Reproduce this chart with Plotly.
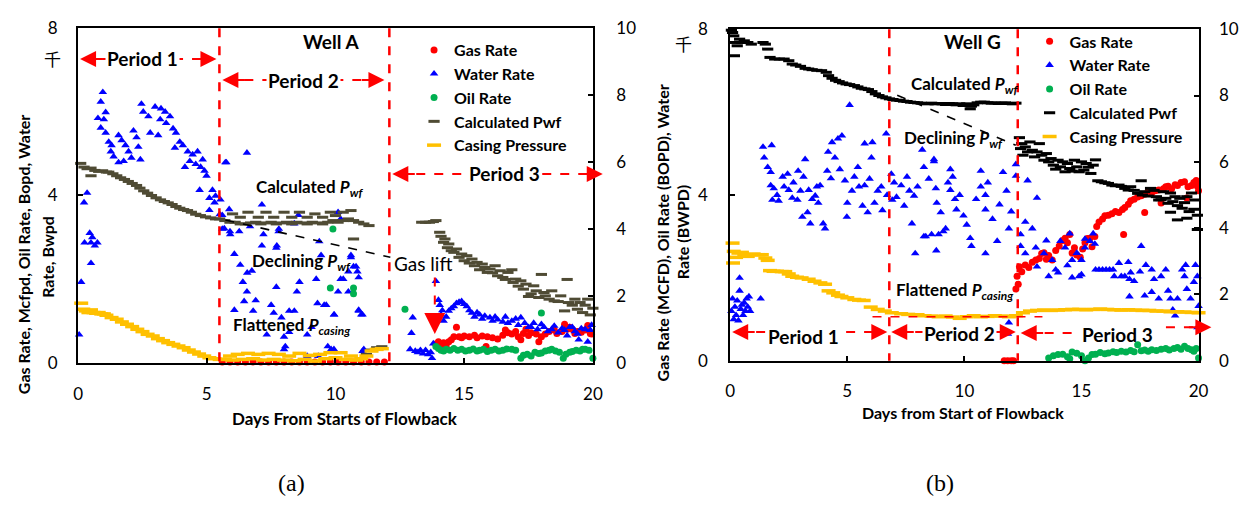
import plotly.graph_objects as go

W, H = 1254, 505
FONT = "Lato"
CJK = "Noto Sans CJK SC"

# ---------------- Panel (a): Well A ----------------
A_GAS_X = [5.6, 5.9, 6.2, 6.5, 6.8, 7.1, 7.4, 7.7, 8.0, 8.3, 8.6, 8.9, 9.2, 9.5, 9.8, 10.1, 10.4, 10.7, 11.0, 11.3, 11.6, 11.9,
           13.9, 14.0, 14.1, 14.2, 14.3, 14.4, 14.5, 14.6, 14.7, 14.8, 14.9, 15.0, 15.2, 15.4, 15.5, 15.7, 15.85, 15.9, 16.1, 16.3,
           16.5, 16.6, 16.7, 16.85, 17.0, 17.1, 17.2, 17.3, 17.4, 17.5, 17.6, 17.8, 17.9, 18.0, 18.15, 18.3, 18.5, 18.6, 18.8,
           18.9, 19.0, 19.1, 19.2, 19.3, 19.4, 19.55, 19.7, 19.8, 19.9, 19.95]
A_GAS_Y = [0.02, 0.02, 0.02, 0.02, 0.02, 0.02, 0.02, 0.02, 0.02, 0.02, 0.02, 0.02, 0.02, 0.02, 0.02, 0.02, 0.02, 0.02, 0.02, 0.02, 0.02, 0.02,
           0.45, 0.5, 0.42, 0.48, 0.4, 0.5, 0.55, 0.62, 0.85, 0.62, 0.6, 0.64, 0.62, 0.66, 0.6, 0.64, 0.39, 0.62, 0.6, 0.57,
           0.66, 0.78, 0.72, 0.69, 0.75, 0.62, 0.55, 0.7, 0.8, 0.65, 0.72, 0.69, 0.5, 0.62, 0.69, 0.75, 0.78, 0.7, 0.75,
           0.92, 0.8, 0.85, 0.8, 0.7, 0.75, 0.73, 0.78, 0.89, 0.7, 0.69]

A_WATER_X = [0.04, 0.12, 0.5, 0.25, 0.5, 0.65, 0.75, 0.55, 0.45, 0.23, 0.35,
             0.96, 0.88, 0.77, 1.0, 0.88, 1.07, 1.07, 1.19, 1.3, 1.27, 1.38, 1.57, 1.57, 1.69, 1.77, 1.84, 1.96, 2.07, 2.15, 2.27,
             2.34, 2.42, 2.46, 2.53, 2.73, 2.8, 2.99, 3.11, 3.19, 3.22, 3.38, 3.42, 3.57, 3.69, 3.76, 3.8, 3.95, 4.07, 4.15, 4.26,
             4.34, 4.45, 4.57, 4.64, 4.76, 4.84, 4.91, 4.99, 4.72, 5.1, 5.22, 5.3, 5.34, 5.1,
             6.56, 5.72, 5.53, 5.87, 5.6, 5.68, 5.91, 6.26, 6.68, 7.14, 7.2, 7.79, 7.72, 8.56, 8.4,
             5.76, 5.5, 5.6, 5.9, 7.8, 9.37, 10.1, 10.2, 6.07, 6.3, 7.14, 7.7, 6.57, 6.4, 6.75, 6.56, 6.9, 6.45, 6.07, 6.8,
             7.5, 7.6, 7.9, 8.2, 8.6, 8.5, 7.7, 7.33, 8.0, 8.05, 8.9, 8.9, 9.07, 9.3, 9.56, 9.7, 9.94, 9.94, 10.3, 10.5, 10.6,
             10.7, 10.85, 10.9, 11.0, 11.1, 10.5, 10.1, 8.4, 8.2, 8.0, 9.44, 10.6, 10.8, 10.9, 10.2, 9.25, 9.64, 9.95, 10.9,
             11.05, 11.05, 9.83, 9.33,
             12.9, 12.95, 13.0, 13.1, 13.2, 13.3, 13.4, 13.5, 13.6, 13.7, 13.75, 13.8, 13.9, 14.0, 14.05, 14.1, 14.15, 14.2,
             14.3, 14.4, 14.5, 14.6, 14.7, 14.8, 14.9, 15.0, 15.1, 15.2, 15.3, 15.4, 15.5, 15.6, 15.7, 15.8, 16.0, 16.1, 16.2,
             16.3, 16.5, 16.6, 16.7, 16.85, 17.0, 17.1, 17.2, 17.35, 17.5, 17.6, 17.7, 17.85, 18.0, 18.1, 18.25, 18.4, 18.5,
             18.65, 18.8, 18.9, 19.0, 19.1, 19.2, 19.3, 19.4, 19.45, 19.55, 19.7, 19.8, 19.9, 19.95]
A_WATER_Y = [0.67, 1.93, 2.38, 2.87, 2.87, 2.8, 2.87, 3.0, 3.1, 3.83, 4.06,
             6.47, 6.24, 5.85, 5.82, 5.62, 5.99, 5.5, 5.28, 5.2, 5.05, 4.93, 4.79, 5.44, 5.32, 4.82, 5.2, 5.05, 4.9, 5.55, 5.39,
             5.16, 4.86, 6.19, 6.0, 5.89, 5.5, 6.12, 5.44, 5.82, 6.08, 6.0, 5.73, 5.89, 5.6, 5.14, 5.5, 5.28, 5.2, 4.68, 5.05,
             4.82, 4.98, 4.75, 5.05, 4.68, 4.86, 4.59, 4.47, 4.13, 3.94, 4.13, 3.83, 3.99, 3.65,
             5.02, 4.79, 3.9, 3.67, 3.53, 3.21, 3.07, 3.14, 3.26, 3.78, 3.07, 3.14, 2.8, 3.53, 3.33,
             4.79, 3.55, 3.2, 3.14, 3.2, 2.9, 3.6, 3.44, 2.6, 2.34, 2.8, 2.75, 2.15, 1.93, 2.2, 1.7, 1.49, 1.47, 1.26, 1.24,
             1.38, 1.19, 1.08, 1.24, 1.93, 1.7, 1.81, 0.67, 0.62, 0.39, 0.16, 0.67, 0.85, 1.42, 1.38, 0.39, 1.15, 0.32, 2.0,
             2.18, 2.52, 2.3, 2.18, 1.24, 1.15, 0.32, 1.7, 1.7, 1.24, 0.73, 0.32, 2.57, 2.57, 2.3, 2.04, 2.0, 2.0, 1.38, 1.15,
             1.26, 1.15, 0.28, 0.32, 0.16,
             0.32, 0.71, 1.08, 0.28, 0.25, 0.3, 0.22, 0.3, 0.2, 0.25, 0.11, 0.46, 1.95, 1.5, 1.38, 1.15, 1.25, 1.0,
             1.1, 1.24, 1.3, 1.35, 1.42, 1.45, 1.47, 1.4, 1.35, 1.25, 1.19, 1.1, 1.2, 1.15, 1.05, 1.12, 1.08, 1.0, 1.1,
             1.03, 0.98, 1.1, 0.95, 1.0, 1.05, 0.9, 1.08, 0.95, 0.85, 0.85, 0.95, 0.8, 0.92, 0.85, 0.75, 0.8, 0.88,
             0.72, 0.82, 0.78, 0.65, 0.85, 0.85, 0.75, 0.69, 0.55, 0.82, 0.8, 0.5, 0.78, 0.9]

A_OIL_X = [9.9, 9.8, 10.7, 10.7, 12.7, 18.0,
           13.9, 14.0, 14.1, 14.2, 14.3, 14.45, 14.6, 14.75, 14.9, 15.05, 15.2, 15.35, 15.5, 15.6, 15.75, 15.9, 16.05, 16.2,
           16.35, 16.5, 16.65, 16.85, 17.0, 17.2, 17.3, 17.45, 17.6, 17.75, 17.9, 18.0, 18.15, 18.3, 18.4, 18.55, 18.7, 18.85,
           18.95, 19.1, 19.2, 19.35, 19.5, 19.6, 19.7, 19.85, 20.0]
A_OIL_Y = [3.2, 1.79, 1.79, 1.65, 1.28, 1.19,
           0.39, 0.34, 0.3, 0.28, 0.32, 0.3, 0.34, 0.3, 0.32, 0.28, 0.3, 0.33, 0.28, 0.3, 0.32, 0.27, 0.3, 0.32,
           0.28, 0.3, 0.33, 0.32, 0.3, 0.11, 0.18, 0.2, 0.16, 0.25, 0.22, 0.23, 0.28, 0.3, 0.32, 0.28, 0.25, 0.11,
           0.2, 0.25, 0.27, 0.3, 0.28, 0.32, 0.32, 0.3, 0.11]

A_PWF_X = [0.1, 0.23, 0.35, 0.5, 0.5, 0.65, 0.8, 0.95, 1.1, 1.19, 1.35, 1.5, 1.65, 1.8, 1.95, 2.1, 2.27, 2.4, 2.55, 2.7,
           2.85, 3.03, 3.2, 3.35, 3.5, 3.65, 3.8, 3.95, 4.1, 4.25, 4.4, 4.57, 4.75, 4.95, 5.15, 5.34,
           5.5, 5.7, 5.9, 6.1, 6.3, 6.5, 6.7, 6.9, 7.1, 7.3, 7.5, 7.7, 7.9, 8.1, 8.3, 8.5, 8.7, 8.9, 9.1, 9.3, 9.5, 9.7, 9.9,
           10.1, 10.3, 10.5, 10.7, 10.9, 11.1, 11.3, 6.0, 6.6, 7.3, 8.0, 8.6, 9.2, 9.8, 10.3, 10.6, 6.3, 7.0, 7.6, 8.3, 8.9,
           9.5, 10.0, 10.7, 11.2, 11.4, 11.6, 11.8,
           13.35, 13.5, 13.65, 13.8, 13.9, 14.05, 14.1, 14.2, 14.25, 14.35, 14.4, 14.5, 14.6, 14.7, 14.8, 14.9, 15.0, 15.1,
           15.2, 15.3, 15.4, 15.5, 15.6, 15.7, 15.8, 15.9, 16.0, 16.1, 16.2, 16.3, 16.4, 16.5, 16.6, 16.7, 16.85, 16.9, 17.0,
           17.1, 17.2, 17.3, 17.4, 17.5, 17.6, 17.7, 17.8, 17.9, 18.0, 18.1, 18.15, 18.3, 18.4, 18.5, 18.65, 18.75, 18.9,
           19.0, 19.05, 19.2, 19.3, 19.4, 19.5, 19.6, 19.7, 19.8, 19.9, 20.0]
A_PWF_Y = [5.96, 5.85, 5.8, 5.82, 5.59, 5.75, 5.72, 5.74, 5.7, 5.7, 5.65, 5.59, 5.53, 5.48, 5.42, 5.36, 5.3, 5.22, 5.14, 5.07,
           5.0, 4.93, 4.87, 4.82, 4.78, 4.73, 4.67, 4.62, 4.58, 4.55, 4.5, 4.44, 4.4, 4.36, 4.33, 4.3,
           4.3, 4.25, 4.2, 4.2, 4.15, 4.15, 4.18, 4.2, 4.15, 4.18, 4.2, 4.15, 4.18, 4.2, 4.15, 4.2, 4.18, 4.15, 4.2, 4.18, 4.15,
           4.2, 4.25, 4.2, 4.25, 4.3, 4.25, 4.2, 4.15, 4.1, 4.45, 4.5, 4.5, 4.5, 4.5, 4.45, 4.5, 4.5, 4.55, 4.35, 4.35, 4.35,
           4.35, 4.35, 4.35, 4.4, 3.7, 0.25, 0.38, 0.45, 0.48,
           4.2, 4.2, 4.2, 4.22, 4.25, 3.9, 3.78, 3.6, 3.7, 3.44, 3.55, 3.35, 3.3, 3.4, 3.15, 3.25, 3.05, 3.2,
           2.98, 3.1, 2.9, 3.0, 2.78, 2.95, 2.85, 2.7, 2.8, 2.69, 2.9, 2.6, 2.75, 2.55, 2.49, 2.7, 2.78, 2.4, 2.5,
           2.29, 2.45, 2.2, 2.35, 1.98, 2.06, 2.3, 2.15, 1.95, 2.64, 2.1, 2.0, 1.9, 2.15, 1.85, 1.83, 2.0, 1.55,
           2.49, 1.8, 1.72, 1.9, 1.6, 1.8, 1.5, 1.72, 1.9, 1.43, 1.63]

A_CASING_X = [0.12, 0.2, 0.3, 0.4, 0.5, 0.6, 0.7, 0.8, 0.9, 1.0, 1.1, 1.3, 1.5, 1.7, 1.9, 2.1, 2.3, 2.5, 2.7, 2.9, 3.1, 3.3,
              3.5, 3.7, 3.9, 4.1, 4.3, 4.5, 4.7, 4.9, 5.1, 5.3, 5.5, 5.7, 5.9, 6.0, 6.2, 6.4, 6.6, 6.8, 7.0, 7.2, 7.4, 7.6,
              7.8, 8.0, 8.2, 8.4, 8.6, 8.8, 9.0, 9.2, 9.4, 9.6, 9.8, 10.0, 10.2, 10.4, 10.6, 10.8, 11.0, 11.2, 11.4, 11.6, 11.8]
A_CASING_Y = [1.78, 1.6, 1.55, 1.5, 1.58, 1.5, 1.48, 1.5, 1.46, 1.46, 1.42, 1.35, 1.3, 1.22, 1.15, 1.08, 1.0, 0.93, 0.85, 0.8,
              0.72, 0.66, 0.6, 0.55, 0.5, 0.45, 0.38, 0.32, 0.26, 0.2, 0.15, 0.12, 0.1, 0.1, 0.2, 0.08, 0.25, 0.1, 0.28, 0.12,
              0.25, 0.08, 0.28, 0.1, 0.25, 0.08, 0.2, 0.06, 0.28, 0.1, 0.22, 0.05, 0.25, 0.12, 0.3, 0.15, 0.3, 0.1, 0.2, 0.08,
              0.12, 0.2, 0.35, 0.4, 0.42]

# ---------------- Panel (b): Well G ----------------
B_GAS_X = [11.7, 11.85, 12.0, 12.1, 12.2, 12.25, 12.3, 12.35, 12.45, 12.6, 12.75, 12.9, 13.05, 13.2, 13.3, 13.4, 13.5, 13.6,
           13.75, 13.9, 14.05, 14.2, 14.3, 14.4, 14.5, 14.6, 14.7, 14.8, 14.95, 15.05, 15.15, 15.25, 15.36, 15.45, 15.57,
           15.65, 15.75, 15.9, 16.0, 16.15, 16.3, 16.45, 16.6, 16.75, 16.85, 16.8, 17.0, 17.1, 17.25, 17.4, 17.55, 17.7,
           17.7, 17.85, 18.0, 18.15, 18.3, 18.4, 18.5, 18.6, 18.7, 18.85, 19.0, 19.1, 19.25, 19.4, 19.5, 19.55, 19.7, 19.8,
           19.9, 19.95, 20.0]
B_GAS_Y = [0.0, 0.0, 0.0, 0.0, 1.73, 2.04, 1.85, 2.27, 2.15, 2.31, 2.25, 2.38, 2.43, 2.47, 2.59, 2.61, 2.45, 2.54,
           2.43, 2.66, 2.77, 2.9, 2.96, 2.85, 3.05, 2.6, 2.73, 2.55, 2.5, 2.7, 2.85, 2.95, 2.96, 2.75, 3.0,
           3.24, 3.35, 3.42, 3.5, 3.51, 3.55, 3.6, 3.58, 3.65, 3.7, 3.05, 3.78, 3.86, 3.9, 3.95, 3.98, 3.58,
           4.02, 4.09, 4.05, 4.1, 4.12, 3.81, 4.15, 4.2, 4.21, 4.15, 4.25, 4.23, 4.3, 4.32, 3.93, 4.2, 4.23, 4.3,
           4.35, 4.21, 4.1]

B_WATER_X = [0.05, 0.1, 0.15, 0.2, 0.25, 0.3, 0.35, 0.4, 0.4, 0.45, 0.5, 0.55, 0.6, 0.65, 0.7, 0.75, 0.8, 0.85, 1.3,
             1.4, 1.45, 1.6, 1.73, 1.73, 1.77, 1.8, 1.86, 2.0, 2.07, 2.24, 2.3, 2.45, 2.5, 2.65, 2.7, 2.87, 2.9, 3.0, 3.08,
             3.13, 3.2, 3.3, 3.35, 3.42, 3.5, 3.63, 3.7, 3.76, 3.84, 3.97, 4.05, 4.14, 4.18, 4.3, 4.35, 4.47, 4.6, 4.68, 4.77,
             4.9, 4.98, 5.0, 5.1, 5.2, 5.3, 5.45, 5.5, 5.65, 5.74, 5.74, 5.87, 5.95, 6.03, 6.07, 6.16, 6.3, 6.45, 6.5, 6.66,
             6.7, 6.88, 6.92, 7.0, 7.1, 7.3, 7.43, 7.55, 7.65, 7.76, 7.85, 7.9, 8.0, 8.2, 8.27, 8.27, 8.35, 8.48, 8.6, 8.7,
             8.7, 8.78, 8.8, 8.82, 8.9, 8.99, 9.1, 9.2, 9.3, 9.4, 9.4, 9.5, 9.6, 9.66, 9.8, 9.96, 10.1, 10.25, 10.3, 10.5,
             10.7, 10.7, 10.9, 10.9, 10.9, 11.0, 11.2, 11.4, 11.5, 11.65, 11.8, 11.86, 11.9, 11.9, 12.0, 12.2, 12.2,
             12.4, 12.4, 12.6, 12.6, 12.7, 12.9, 13.05, 13.1, 13.1, 13.4, 13.5, 13.6, 13.75, 13.9, 14.0, 14.1, 14.3, 14.4,
             14.5, 14.6, 14.6, 14.8, 14.9, 15.0, 15.0, 15.15, 15.15, 15.36, 15.5, 15.57, 15.6, 15.75, 15.9, 16.05, 16.2,
             16.35, 16.4, 16.6, 16.7, 16.85, 17.0, 17.05, 17.05, 17.1, 17.25, 17.5, 17.55, 17.7, 17.75, 18.0, 18.0, 18.1,
             18.3, 18.4, 18.6, 18.7, 18.8, 18.9, 19.0, 19.1, 19.3, 19.4, 19.45, 19.5, 19.66, 19.8, 19.87, 19.95, 19.95, 20.0]
B_WATER_Y = [1.2, 1.5, 1.0, 1.3, 1.1, 1.45, 0.97, 2.0, 1.69, 1.25, 1.35, 1.1, 1.4, 1.2, 1.5, 1.3, 1.55, 1.2, 1.5,
             5.16, 4.9, 4.67, 4.55, 4.23, 5.2, 3.88, 4.16, 4.0, 3.86, 4.44, 4.2, 4.51, 4.12, 3.93, 4.3, 3.88, 4.58, 4.1, 3.47,
             4.44, 4.86, 3.58, 4.12, 3.31, 3.9, 3.98, 4.2, 3.81, 4.23, 3.31, 3.19, 4.58, 5.04, 4.4, 5.27, 4.9, 5.36, 4.62, 5.43,
             4.35, 3.47, 3.81, 6.17, 4.1, 4.44, 4.67, 4.2, 3.74, 5.24, 4.23, 3.58, 4.39, 4.9, 5.27, 3.81, 4.1, 4.2, 3.63, 5.48,
             4.0, 4.51, 3.88, 4.3, 3.95, 4.23, 3.74, 4.44, 4.1, 3.31, 3.98, 2.59, 4.2, 5.09, 4.67, 3.0, 3.0, 4.39, 3.05, 4.81,
             4.86, 4.16, 2.66, 3.81, 3.05, 3.58, 3.12, 3.19, 4.3, 4.62, 4.12, 4.44, 3.9, 3.65, 4.0, 3.5, 3.28, 2.96, 2.77, 3.9,
             4.58, 4.2, 4.0, 3.65, 2.59, 4.3, 3.42, 2.89, 3.77, 4.55, 4.1, 0.65, 0.92, 3.19, 3.6, 4.46, 4.74,
             3.05, 2.77, 3.35, 2.59, 4.35, 3.19, 2.73, 3.93, 2.27, 2.59, 2.9, 2.04, 2.43, 2.2, 2.13, 2.89, 2.73, 2.3,
             3.07, 2.43, 2.01, 2.6, 2.04, 2.08, 2.43, 2.73, 2.94, 2.89, 3.07, 2.82, 2.2, 2.2, 2.2, 2.2, 2.2,
             2.2, 2.04, 2.36, 2.04, 2.04, 2.38, 1.97, 1.55, 2.13, 1.92, 2.15, 2.77, 1.57, 2.31, 2.2, 1.66, 1.97,
             1.5, 2.04, 2.2, 1.69, 1.5, 1.23, 1.09, 1.5, 2.2, 2.04, 2.31, 1.73, 1.5, 1.9, 2.31, 2.04, 0.81, 1.32]

B_OIL_X = [13.6, 13.8, 14.0, 14.2, 14.4, 14.5, 14.6, 14.8, 15.0, 15.15, 15.3, 15.45, 15.6, 15.8, 16.0, 16.15, 16.35, 16.5,
           16.7, 16.9, 17.1, 17.25, 17.4, 17.55, 17.7, 17.85, 18.0, 18.2, 18.4, 18.6, 18.75, 18.95, 19.1, 19.25, 19.4,
           19.55, 19.7, 19.8, 19.9, 20.0]
B_OIL_Y = [0.07, 0.12, 0.15, 0.16, 0.1, 0.05, 0.21, 0.18, 0.12, 0.0, 0.07, 0.15, 0.16, 0.2, 0.17, 0.19, 0.22, 0.2,
           0.23, 0.21, 0.25, 0.22, 0.39, 0.24, 0.26, 0.23, 0.27, 0.25, 0.28, 0.3, 0.26, 0.3, 0.32, 0.28, 0.35,
           0.3, 0.27, 0.23, 0.3, 0.07]

B_PWF_X = [0.05, 0.1, 0.15, 0.18, 0.2, 0.3, 0.4, 0.5, 0.6, 0.75, 0.9, 1.4, 1.5, 1.6, 1.7, 1.9, 2.1, 2.3, 2.5, 2.65, 2.8,
           3.0, 3.2, 3.35, 3.5, 3.7, 3.9, 4.1, 4.2, 4.35, 4.5, 4.65, 4.8, 4.95, 5.1, 5.3, 5.45, 5.6, 5.75, 5.9, 6.05, 6.2,
           6.35, 6.5, 6.65, 6.8, 6.95, 7.1, 7.25, 7.4, 7.55, 7.7, 7.85, 8.0, 8.15, 8.3, 8.45, 8.6, 8.75, 8.9, 9.05, 9.2,
           9.35, 9.5, 9.65, 9.8, 9.95, 10.1, 10.25, 10.3, 10.4, 10.55, 10.7, 10.85, 11.0, 11.15, 11.3, 11.45, 11.6, 11.75,
           11.9, 12.05, 12.2,
           12.35, 12.4, 12.45, 12.5, 12.6, 12.7, 12.8, 12.9, 13.0, 13.1, 13.2, 13.3, 13.4, 13.5, 13.6, 13.7, 13.8, 13.9,
           14.0, 14.1, 14.2, 14.3, 14.4, 14.5, 14.6, 14.7, 14.8, 14.9, 15.0, 15.1, 15.2, 15.3, 15.4, 15.5, 15.6, 15.7,
           15.85, 16.0, 16.15, 16.3, 16.45, 16.6, 16.7, 16.85, 17.0, 17.1, 17.25, 17.4, 17.55, 17.6, 17.7, 17.85, 17.95,
           18.1, 18.2, 18.3, 18.4, 18.5, 18.6, 18.7, 18.8, 18.9, 19.0, 19.1, 19.2, 19.3, 19.4, 19.5, 19.6, 19.7, 19.8,
           19.85, 19.95, 19.95, 19.1, 18.8, 19.5]
B_PWF_Y = [9.97, 9.9, 9.8, 9.2, 9.6, 9.5, 9.7, 9.6, 9.65, 9.6, 9.55, 9.6, 9.55, 9.4, 9.15, 9.1, 9.1, 9.1, 9.05, 8.95, 8.92,
           8.88, 8.82, 8.8, 8.78, 8.76, 8.75, 8.7, 8.6, 8.52, 8.46, 8.42, 8.38, 8.35, 8.33, 8.3, 8.26, 8.22, 8.2, 8.18, 8.12,
           8.05, 8.0, 7.96, 7.93, 7.9, 7.88, 7.86, 7.85, 7.83, 7.82, 7.8, 7.79, 7.78, 7.77, 7.76, 7.75, 7.77, 7.75, 7.76,
           7.75, 7.73, 7.76, 7.75, 7.72, 7.75, 7.7, 7.75, 7.6, 7.68, 7.72, 7.78, 7.8, 7.8, 7.78, 7.77, 7.78, 7.76, 7.77,
           7.78, 7.76, 7.75, 7.77,
           6.73, 6.4, 6.55, 6.2, 6.45, 6.3, 6.6, 6.35, 6.15, 6.3, 6.55, 6.2, 6.05, 6.25, 6.0, 6.1, 5.9, 5.78,
           6.05, 5.85, 6.0, 5.7, 5.95, 5.8, 5.72, 6.05, 5.85, 5.7, 6.0, 5.75, 5.95, 5.84, 5.65, 5.9, 6.06, 5.43,
           5.4, 5.37, 5.35, 5.3, 5.28, 5.3, 5.26, 5.2, 5.15, 5.25, 5.14, 5.05, 5.43, 5.0, 5.1, 4.97, 5.2,
           5.14, 4.95, 4.85, 4.86, 5.1, 4.9, 4.75, 5.06, 4.8, 4.95, 4.68, 4.9, 4.6, 4.77, 4.95, 4.5, 5.06, 4.57,
           4.85, 4.39, 3.96, 4.25, 4.48, 4.3]

B_CASING_X = [0.1, 0.12, 0.15, 0.25, 0.35, 0.5, 0.6, 0.75, 0.9, 1.0, 1.2, 1.35, 1.5, 1.6, 1.7, 1.85, 2.0, 2.2, 2.35, 2.5,
              2.65, 2.85, 3.05, 3.35, 3.6, 3.85, 4.05, 4.2, 4.4, 4.6, 4.75, 5.0, 5.3, 5.5, 5.7, 6.0, 6.3, 6.6, 6.9, 7.3,
              7.6, 8.0, 8.3, 8.6, 8.9, 9.2, 9.5, 9.8, 10.1, 10.4, 10.7, 11.0, 11.3, 11.6, 11.9, 12.2, 12.5, 12.8, 13.1,
              13.4, 13.7, 14.0, 14.3, 14.6, 14.9, 15.2, 15.5, 15.8, 16.1, 16.4, 16.7, 17.0, 17.3, 17.6, 17.9, 18.2, 18.5,
              18.8, 19.1, 19.4, 19.7, 20.0]
B_CASING_Y = [3.55, 2.95, 3.3, 3.12, 3.25, 3.27, 3.2, 3.15, 3.2, 3.22, 3.2, 3.2, 3.1, 3.03, 2.72, 2.7, 2.7, 2.69, 2.69, 2.62,
              2.55, 2.52, 2.5, 2.46, 2.4, 2.35, 2.31, 2.11, 2.05, 1.98, 1.94, 1.9, 1.85, 1.83, 1.82, 1.62, 1.55, 1.5, 1.45,
              1.42, 1.4, 1.39, 1.36, 1.35, 1.33, 1.35, 1.32, 1.28, 1.33, 1.36, 1.33, 1.34, 1.36, 1.35, 1.33, 1.36, 1.45, 1.5,
              1.52, 1.53, 1.52, 1.53, 1.54, 1.55, 1.55, 1.54, 1.55, 1.56, 1.55, 1.54, 1.53, 1.54, 1.53, 1.52, 1.52, 1.5,
              1.5, 1.48, 1.48, 1.47, 1.46, 1.45]

X_TICKS = [0, 5, 10, 15, 20]
LEFT_TICKS = [0, 4, 8]
RIGHT_TICKS = [0, 2, 4, 6, 8, 10]

RED, BLUE, GREEN, GOLD = "#FF0000", "#0000FF", "#00B050", "#FFC000"
OLIVE, BLACK = "#4F4B34", "#000000"


def px(x):
    return x / W


def py(y):
    return 1 - y / H


fig = go.Figure()


def add_panel(xa, ya, ya2, legend, gas, water, oil, pwf, casing, pwf_color):
    common = dict(mode="markers", cliponaxis=False, legend=legend)
    fig.add_trace(go.Scatter(x=gas[0], y=gas[1], name="Gas Rate", xaxis=xa, yaxis=ya,
                             marker=dict(symbol="circle", size=7, color=RED, line=dict(width=0)), **common))
    fig.add_trace(go.Scatter(x=water[0], y=water[1], name="Water Rate", xaxis=xa, yaxis=ya,
                             marker=dict(symbol="triangle-up", size=7.5, color=BLUE, line=dict(width=0)), **common))
    fig.add_trace(go.Scatter(x=oil[0], y=oil[1], name="Oil Rate", xaxis=xa, yaxis=ya,
                             marker=dict(symbol="circle", size=7, color=GREEN, line=dict(width=0)), **common))
    fig.add_trace(go.Scatter(x=pwf[0], y=pwf[1], name="Calculated Pwf", xaxis=xa, yaxis=ya2,
                             marker=dict(symbol="line-ew", size=8, color=pwf_color,
                                         line=dict(width=3, color=pwf_color)), **common))
    fig.add_trace(go.Scatter(x=casing[0], y=casing[1], name="Casing Pressure", xaxis=xa, yaxis=ya2,
                             marker=dict(symbol="line-ew", size=10, color=GOLD,
                                         line=dict(width=3.5, color=GOLD)), **common))


add_panel("x", "y", "y2", "legend", (A_GAS_X, A_GAS_Y), (A_WATER_X, A_WATER_Y), (A_OIL_X, A_OIL_Y),
          (A_PWF_X, A_PWF_Y), (A_CASING_X, A_CASING_Y), OLIVE)
add_panel("x2", "y3", "y4", "legend2", (B_GAS_X, B_GAS_Y), (B_WATER_X, B_WATER_Y), (B_OIL_X, B_OIL_Y),
          (B_PWF_X, B_PWF_Y), (B_CASING_X, B_CASING_Y), BLACK)

tickfont = dict(family=FONT, size=17, color="black")
axis_common = dict(showgrid=False, zeroline=False, showline=True, linecolor="black", linewidth=2,
                   ticks="inside", ticklen=5, tickwidth=1.5, tickcolor="black", tickfont=tickfont)

dom_xa = [px(74), px(595)]
dom_ya = [py(367), py(18)]
dom_xb = [px(734), px(1208)]
dom_yb = [py(365), py(19)]

fig.update_layout(
    width=W, height=H, margin=dict(l=0, r=0, t=0, b=0),
    paper_bgcolor="white", plot_bgcolor="white",
    xaxis=dict(domain=dom_xa, range=[0, 20], tickvals=X_TICKS, anchor="y", mirror=True, ticklabelstandoff=15, **axis_common),
    yaxis=dict(domain=dom_ya, range=[0, 8], tickvals=LEFT_TICKS, anchor="x", ticklabelstandoff=15, **axis_common),
    yaxis2=dict(domain=dom_ya, range=[0, 10], tickvals=RIGHT_TICKS, overlaying="y", side="right", anchor="x",
                ticklabelstandoff=18, **axis_common),
    xaxis2=dict(domain=dom_xb, range=[0, 20], tickvals=X_TICKS, anchor="y3", mirror=True, ticklabelstandoff=14, **axis_common),
    yaxis3=dict(domain=dom_yb, range=[0, 8], tickvals=LEFT_TICKS, anchor="x2", ticklabelstandoff=17, **axis_common),
    yaxis4=dict(domain=dom_yb, range=[0, 10], tickvals=RIGHT_TICKS, overlaying="y3", side="right", anchor="x2",
                ticklabelstandoff=15, **axis_common),
    legend=dict(x=px(414), y=py(23), xanchor="left", yanchor="top", bgcolor="rgba(0,0,0,0)",
                font=dict(family=FONT, size=16, color="black", weight="bold"), itemwidth=30, tracegroupgap=0),
    legend2=dict(x=px(1037), y=py(14), xanchor="left", yanchor="top", bgcolor="rgba(0,0,0,0)",
                 font=dict(family=FONT, size=16, color="black", weight="bold"), itemwidth=30, tracegroupgap=0),
    showlegend=True,
)

shapes = []
annotations = []


def dline(x0, y0, x1, y1, color=RED, width=2, dash="dash"):
    shapes.append(dict(type="line", xref="paper", yref="paper", x0=px(x0), y0=py(y0), x1=px(x1), y1=py(y1),
                       line=dict(color=color, width=width, dash=dash)))


def arrowhead(xt, yt, ax, ay=0, size=1.6, width=2):
    annotations.append(dict(xref="paper", yref="paper", x=px(xt), y=py(yt), ax=ax, ay=ay, text="",
                            showarrow=True, arrowhead=2, arrowsize=size, arrowwidth=width, arrowcolor=RED))


def text(x, y, s, size=17, bold=True, family=FONT, bg=None):
    a = dict(xref="paper", yref="paper", x=px(x), y=py(y), text=s, showarrow=False, xanchor="center", yanchor="middle",
             font=dict(family=family, size=size, color="black", weight="bold" if bold else "normal"))
    if bg:
        a["bgcolor"] = bg
        a["borderpad"] = 1
    annotations.append(a)


def vtext(x, y, s, size=16):
    annotations.append(dict(xref="paper", yref="paper", x=px(x), y=py(y), text=s, showarrow=False, textangle=-90,
                            xanchor="center", yanchor="middle",
                            font=dict(family=FONT, size=size, color="black", weight="bold")))


# ----- panel (a) decorations -----
dline(217, 18, 217, 367, width=2.5)
dline(389, 18, 389, 367, width=2.5)
dline(80, 50, 206, 50)
arrowhead(76, 50, 24)
arrowhead(214, 50, -24)
text(139, 50, "Period 1", size=19, bg="white")
dline(224, 72, 376, 72)
arrowhead(220, 72, 24)
arrowhead(384, 72, -24)
text(302, 72, "Period 2", size=19, bg="white")
dline(398, 170, 596, 170)
arrowhead(392, 170, 24)
arrowhead(605, 170, -24)
text(506, 170, "Period 3", size=19, bg="white")
dline(223, 218, 390, 257, color="black", width=1.6)
dline(435, 278, 435, 318)
arrowhead(435, 337, 0, -22, size=1.9, width=2.2)
text(330, 32, "Well A", size=19)
text(308, 185, "Calculated <i>P<sub>wf</sub></i>", size=17)
text(300, 262, "Declining <i>P<sub>wf</sub></i>", size=17)
text(290, 329, "Flattened <i>P<sub>casing</sub></i>", size=17)
text(423, 263, "Gas lift", size=19, bold=False)
text(48, 50, "千", size=17, bold=False, family=CJK)
vtext(19, 254, "Gas Rate, Mcfpd, Oil Rate, Bopd, Water")
vtext(43, 256, "Rate, Bwpd")
text(344, 425, "Days From Starts of Flowback", size=17)
text(290, 492, "(a)", size=24, bold=False, family="Liberation Serif")

# ----- panel (b) decorations -----
dline(895, 19, 895, 365, width=2.5)
dline(1025, 19, 1025, 365, width=2.5)
dline(878, 319, 1050, 319, width=1.5)
dline(742, 335, 886, 335)
arrowhead(736, 335, 24)
arrowhead(893, 335, -24)
text(808, 340, "Period 1", size=19, bg="white")
dline(903, 335, 1016, 335)
arrowhead(897, 335, 24)
arrowhead(1023, 335, -24)
text(966, 336, "Period 2", size=19, bg="white")
dline(1034, 336, 1080, 336)
arrowhead(1028, 336, 24)
dline(1175, 330, 1212, 330)
arrowhead(1221, 330, -24)
text(1126, 338, "Period 3", size=19)
dline(903, 88, 1023, 140, color="black", width=1.6)
text(979, 32, "Well G", size=19)
text(971, 77, "Calculated <i>P<sub>wf</sub></i>", size=17)
text(960, 134, "Declining <i>P<sub>wf</sub></i>", size=17)
text(961, 292, "Flattened <i>P<sub>casing</sub></i>", size=17)
text(687, 34, "千", size=17, bold=False, family=CJK)
vtext(665, 232, "Gas Rate (MCFD), Oil Rate (BOPD), Water")
vtext(686, 231, "Rate (BWPD)")
text(970, 419, "Days from Start of Flowback", size=16)
text(946, 492, "(b)", size=24, bold=False, family="Liberation Serif")

fig.update_layout(shapes=shapes, annotations=annotations)
fig.write_html("out.html")
